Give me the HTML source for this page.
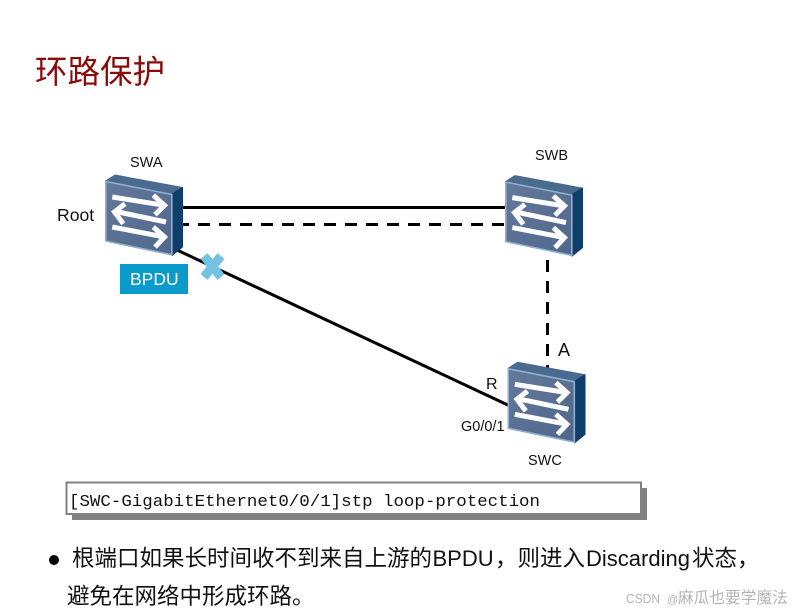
<!DOCTYPE html>
<html><head><meta charset="utf-8"><style>
html,body{margin:0;padding:0;background:#fff}
body{width:801px;height:613px;overflow:hidden;position:relative}
svg{position:absolute;left:0;top:0}
text{font-family:"Liberation Sans","Noto Sans CJK SC",sans-serif;fill:#111}
</style></head><body>
<svg width="801" height="613" viewBox="0 0 801 613" xmlns="http://www.w3.org/2000/svg">
<defs>
<linearGradient id="f" x1="0" y1="0" x2="1" y2="1"><stop offset="0" stop-color="#64799b"/><stop offset="1" stop-color="#4f678c"/></linearGradient>
<g id="sw">
<polygon points="0.500,6 10,0 77.500,12.500 67,19" fill="#4a6a90" stroke="#4a6a90" stroke-width="1" stroke-linejoin="round"/>
<polygon points="67,19 77.500,12.500 77.500,72 67,80.500" fill="#0e3f6c" stroke="#0e3f6c" stroke-width="1" stroke-linejoin="round"/>
<polygon points="0.800,6.500 66.800,19.500 66.800,79.800 0.800,66" fill="url(#f)" stroke="#8fb0cc" stroke-width="1.600" stroke-linejoin="round"/>
<g stroke="#fff" stroke-width="5" fill="none">
<path d="M7.3 22L58.500 30.200"/><path d="M48.300 20.300L59.500 30.300L50 39.700"/>
<path d="M61 47L11 36.500"/><path d="M20 28.700L9.500 37L18.300 48.700"/>
<path d="M7.300 52L58.500 61.800"/><path d="M48.300 52L59.500 62L50 72"/>
</g>
</g>
</defs>
<text x="35" y="83" font-size="32.500" style="fill:#8b0a0a">环路保护</text>

<line x1="177" y1="207.500" x2="506" y2="207.500" stroke="#000" stroke-width="3"/>
<line x1="177" y1="224.500" x2="506" y2="224.500" stroke="#000" stroke-width="3" stroke-dasharray="12 9"/>
<line x1="547.500" y1="260" x2="547.500" y2="372" stroke="#000" stroke-width="3" stroke-dasharray="12 9"/>
<line x1="177" y1="250" x2="510" y2="406" stroke="#000" stroke-width="3"/>

<use href="#sw" x="105" y="175"/>
<use href="#sw" x="505" y="175.600"/>
<use href="#sw" x="507.500" y="362.300"/>

<text x="130" y="167" font-size="14.500">SWA</text>
<text x="535" y="160" font-size="14.500">SWB</text>
<text x="528" y="465" font-size="14.500">SWC</text>
<text x="57" y="221" font-size="17.600">Root</text>
<text x="558" y="356" font-size="18">A</text>
<text x="486" y="389" font-size="16">R</text>
<text x="461" y="431" font-size="14.500">G0/0/1</text>

<rect x="120" y="264" width="68" height="30" fill="#0a9bcb"/>
<text x="130" y="285" font-size="17.500" style="fill:#fff">BPDU</text>
<g stroke="#73c2e2" stroke-width="9">
<line x1="204" y1="256" x2="221" y2="277"/><line x1="221" y1="256" x2="204" y2="277"/>
</g>

<rect x="72" y="488" width="575" height="32" fill="#808080"/>
<rect x="66.500" y="482.500" width="574.500" height="31.500" fill="#fff" stroke="#808080" stroke-width="2"/>
<text x="69" y="506" font-size="16.500" textLength="471" lengthAdjust="spacingAndGlyphs" style='font-family:"Liberation Mono",monospace;fill:#111'>[SWC-GigabitEthernet0/0/1]stp loop-protection</text>

<circle cx="54" cy="560" r="5" fill="#000"/>
<text x="72" y="566" font-size="22.500">根端口如果长时间收不到来自上游的</text>
<text x="432.500" y="566" font-size="22">BPDU</text>
<text x="495" y="566" font-size="22.500">，则进入</text>
<text x="586" y="566" font-size="22">Discarding</text>
<text x="692" y="566" font-size="22.500">状态，</text>
<text x="67" y="604" font-size="22.500">避免在网络中形成环路。</text>
<text x="626" y="603" font-size="12.500" textLength="34" lengthAdjust="spacingAndGlyphs" style="fill:#b4b4b4">CSDN</text>
<text x="667" y="603" font-size="11" style="fill:#b4b4b4">@</text>
<text x="678" y="603" font-size="15.700" style="fill:#b4b4b4">麻瓜也要学魔法</text>
</svg>
</body></html>
